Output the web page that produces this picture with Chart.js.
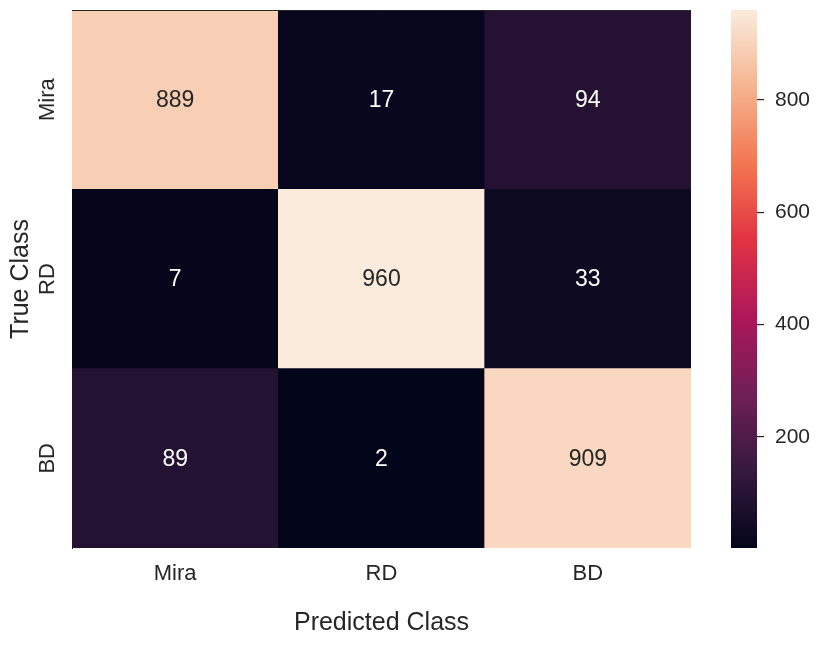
<!DOCTYPE html>
<html><head><meta charset="utf-8">
<script src="https://cdn.jsdelivr.net/npm/chart.js@4/dist/chart.umd.min.js"></script>
<style>
html,body{margin:0;padding:0;background:#fff;}
#wrap{position:relative;width:816px;height:647px;overflow:hidden;}
#main{position:absolute;left:0;top:0;}
#cbar{position:absolute;left:725px;top:0;}
</style></head><body>
<div id="wrap">
<canvas id="main" width="816" height="647"></canvas>
<canvas id="cbar" width="91" height="647"></canvas>
</div>
<script>
// ---- data ----
const predictedClasses = ['Mira', 'RD', 'BD'];
const trueClasses = ['Mira', 'RD', 'BD'];
const rowMira = [889, 17, 94];
const rowRD = [7, 960, 33];
const rowBD = [89, 2, 909];
const colorbarTicks = [200, 400, 600, 800];
const xTitle = 'Predicted Class';
const yTitle = 'True Class';

const matrix = [rowMira, rowRD, rowBD];
const allVals = matrix.flat();
const vmin = Math.min(...allVals), vmax = Math.max(...allVals);

// rocket colormap anchors
const rocketStops = [
  [0.0, [3, 5, 26]],
  [1/7, [53, 25, 62]],
  [2/7, [112, 31, 87]],
  [3/7, [173, 23, 89]],
  [4/7, [225, 51, 66]],
  [5/7, [243, 118, 81]],
  [6/7, [246, 180, 143]],
  [1.0, [250, 235, 221]]
];
function rocketRGB(t) {
  t = Math.max(0, Math.min(1, t));
  for (let i = 1; i < rocketStops.length; i++) {
    const [t1, c1] = rocketStops[i];
    const [t0, c0] = rocketStops[i - 1];
    if (t <= t1) {
      const f = (t - t0) / (t1 - t0);
      return c0.map((c, k) => Math.round(c + (c1[k] - c) * f));
    }
  }
  return rocketStops[rocketStops.length - 1][1];
}
const rgbStr = c => `rgb(${c[0]},${c[1]},${c[2]})`;
const norm = v => (v - vmin) / (vmax - vmin);

Chart.defaults.font.family = "'Liberation Sans', Arial, Helvetica, sans-serif";
Chart.defaults.color = '#262626';
const TXT = '#262626';

// rows bottom-up for stacking
const stackOrder = [2, 1, 0];
const datasets = stackOrder.map(ri => ({
  label: trueClasses[ri],
  rowIndex: ri,
  data: matrix[ri].map(() => 1),
  values: matrix[ri],
  backgroundColor: matrix[ri].map(v => rgbStr(rocketRGB(norm(v)))),
  borderWidth: 0,
  barPercentage: 1,
  categoryPercentage: 1
}));

const annotatePlugin = {
  id: 'annotate',
  afterDatasetsDraw(chart) {
    const ctx = chart.ctx;
    const xs = chart.scales.x, ys = chart.scales.y;
    ctx.save();
    ctx.font = "23px 'Liberation Sans', Arial, sans-serif";
    ctx.textAlign = 'center';
    ctx.textBaseline = 'middle';
    matrix.forEach((row, ri) => {
      row.forEach((v, ci) => {
        const c = rocketRGB(norm(v));
        const lum = (0.2126 * c[0] + 0.7152 * c[1] + 0.0722 * c[2]) / 255;
        ctx.fillStyle = lum > 0.408 ? TXT : '#ffffff';
        const x = xs.getPixelForValue(ci);
        const y = ys.getPixelForValue(trueClasses.length - ri - 0.5);
        ctx.fillText(String(v), x, y + 1);
      });
    });
    // top spine
    const a = chart.chartArea;
    ctx.strokeStyle = TXT;
    ctx.lineWidth = 1;
    ctx.beginPath();
    ctx.moveTo(a.left, a.top + 0.5);
    ctx.lineTo(a.right, a.top + 0.5);
    ctx.stroke();
    ctx.restore();
  }
};

new Chart(document.getElementById('main'), {
  type: 'bar',
  data: { labels: predictedClasses, datasets },
  options: {
    responsive: false,
    animation: false,
    layout: { padding: { left: 0, top: 10, right: 125, bottom: 0 } },
    plugins: { legend: { display: false }, tooltip: { enabled: false } },
    scales: {
      x: {
        stacked: true,
        grid: { display: false },
        border: { display: false },
        ticks: { font: { size: 22 }, color: TXT, padding: 5 },
        title: { display: true, text: xTitle, font: { size: 25 }, color: TXT, padding: { top: 0, bottom: 9 } },
        afterFit: s => { s.height = 99; s.paddingLeft = 0; s.paddingRight = 0; }
      },
      y: {
        stacked: true,
        min: 0,
        max: trueClasses.length,
        grid: { display: false, drawTicks: false },
        border: { display: true, color: TXT, width: 1 },
        afterBuildTicks: s => { s.ticks = trueClasses.map((_, i) => ({ value: trueClasses.length - i - 0.5 })); },
        ticks: {
          font: { size: 22 }, color: TXT, padding: 3,
          minRotation: 90, maxRotation: 90, crossAlign: 'center',
          callback: v => trueClasses[Math.round(trueClasses.length - 0.5 - v)]
        },
        title: { display: true, text: yTitle, font: { size: 25 }, color: TXT, padding: { top: 6, bottom: 0 } },
        afterFit: s => { s.width = 72; s.paddingTop = 0; s.paddingBottom = 0; }
      }
    }
  },
  plugins: [annotatePlugin]
});

const gradientPlugin = {
  id: 'gradient',
  beforeDatasetsDraw(chart) {
    const a = chart.chartArea, ctx = chart.ctx;
    const g = ctx.createLinearGradient(0, a.bottom, 0, a.top);
    rocketStops.forEach(([t, c]) => g.addColorStop(t, rgbStr(c)));
    ctx.save();
    ctx.fillStyle = g;
    ctx.fillRect(a.left, a.top, a.right - a.left, a.bottom - a.top);
    ctx.restore();
  }
};

new Chart(document.getElementById('cbar'), {
  type: 'bar',
  data: { labels: [''], datasets: [{ data: [], backgroundColor: 'rgba(0,0,0,0)' }] },
  options: {
    responsive: false,
    animation: false,
    layout: { padding: { left: 6, top: 10, bottom: 99, right: 0 } },
    plugins: { legend: { display: false }, tooltip: { enabled: false } },
    scales: {
      x: { display: false },
      y: {
        position: 'right',
        min: vmin,
        max: vmax,
        afterBuildTicks: s => { s.ticks = colorbarTicks.map(v => ({ value: v })); },
        grid: { drawOnChartArea: false, drawTicks: true, tickLength: 7, color: TXT, lineWidth: 1.2 },
        border: { display: false },
        ticks: { font: { size: 21 }, color: TXT, padding: 11 },
        afterFit: s => { s.width = 59; s.paddingTop = 0; s.paddingBottom = 0; }
      }
    }
  },
  plugins: [gradientPlugin]
});
</script>
</body></html>
